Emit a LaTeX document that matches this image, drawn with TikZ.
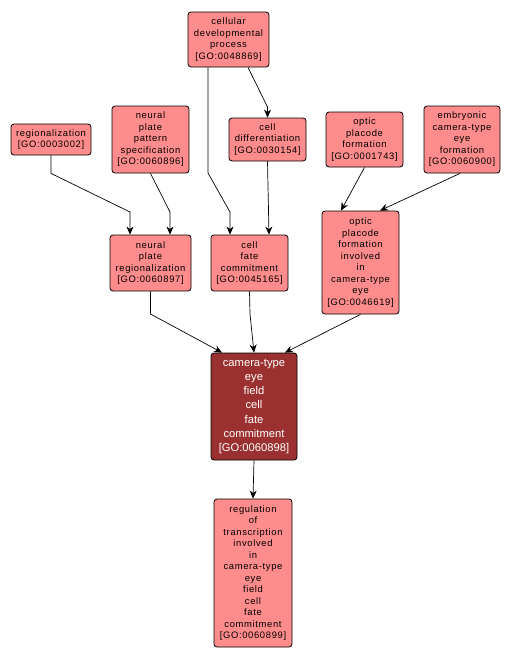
\documentclass[tikz,border=0pt]{standalone}
\usepackage{fontspec}
\setmainfont{Liberation Sans}
\newfontfamily\termfont[LetterSpace=7]{Liberation Sans}
\usetikzlibrary{arrows.meta}
\definecolor{termfill}{HTML}{FF8C8C}
\definecolor{mainfill}{HTML}{9B3030}
\tikzset{
  term/.style={draw, line width=0.8pt, rounded corners=3pt, fill=termfill,
    align=center, inner sep=1pt, font=\termfont\fontsize{9.4}{11.5}\selectfont},
  mainterm/.style={term, fill=mainfill, text=white, font=\rmfamily\fontsize{11.2}{14.1}\selectfont},
  edge/.style={line width=0.7pt, -{Stealth[length=8pt,width=7pt,inset=2.5pt]}}
}
\begin{document}
\begin{tikzpicture}[x=1pt,y=-1pt]
  \useasboundingbox (0,0) rectangle (511,664);
  % top row
  \node[term, minimum width=81pt, minimum height=55pt] (cdp) at (228.5,39.5)
    {cellular\\developmental\\process\\{[}GO:0048869{]}};
  \node[term, minimum width=80pt, minimum height=31pt] (reg) at (51,139.5)
    {regionalization\\{[}GO:0003002{]}};
  \node[term, minimum width=77pt, minimum height=67pt] (nps) at (150.5,139.5)
    {neural\\plate\\pattern\\specification\\{[}GO:0060896{]}};
  \node[term, minimum width=77pt, minimum height=43pt] (cdiff) at (267.5,139.5)
    {cell\\differentiation\\{[}GO:0030154{]}};
  \node[term, minimum width=77pt, minimum height=55pt] (opf) at (364.5,139.5)
    {optic\\placode\\formation\\{[}GO:0001743{]}};
  \node[term, minimum width=76pt, minimum height=67pt] (ecef) at (462,139.5)
    {embryonic\\camera-type\\eye\\formation\\{[}GO:0060900{]}};
  % middle row
  \node[term, minimum width=81pt, minimum height=56pt] (npr) at (150.5,263)
    {neural\\plate\\regionalization\\{[}GO:0060897{]}};
  \node[term, minimum width=77pt, minimum height=56pt] (cfc) at (249.5,263)
    {cell\\fate\\commitment\\{[}GO:0045165{]}};
  \node[term, minimum width=77pt, minimum height=103pt] (opfi) at (360.5,262.5)
    {optic\\placode\\formation\\involved\\in\\camera-type\\eye\\{[}GO:0046619{]}};
  % main term
  \node[mainterm, minimum width=86pt, minimum height=107pt] (cefc) at (254,406.5)
    {camera-type\\eye\\field\\cell\\fate\\commitment\\{[}GO:0060898{]}};
  \node[term, minimum width=78pt, minimum height=148pt] (rtc) at (253,573)
    {regulation\\of\\transcription\\involved\\in\\camera-type\\eye\\field\\cell\\fate\\commitment\\{[}GO:0060899{]}};
  % edges
  \draw[edge] (reg.south) -- ++(0,18) -- (130,212) -- ([xshift=-20.5pt]npr.north);
  \draw[edge] (nps.south) -- (170,212) -- ([xshift=19.5pt]npr.north);
  \draw[edge] ([xshift=-20.5pt]cdp.south) -- (208,173) -- (230,212) -- ([xshift=-19.5pt]cfc.north);
  \draw[edge] ([xshift=19.5pt]cdp.south) -- (267.5,107) -- (cdiff.north);
  \draw[edge] (cdiff.south) -- ([xshift=19.5pt]cfc.north);
  \draw[edge] (opf.south) -- ([xshift=-19.5pt]opfi.north);
  \draw[edge] ([xshift=-2pt]ecef.south) -- ([xshift=19.5pt]opfi.north);
  \draw[edge] (npr.south) -- (150.5,314) -- ([xshift=-32pt]cefc.north);
  \draw[edge] (cfc.south) -- (250,314) -- (cefc.north);
  \draw[edge] (opfi.south) -- ([xshift=31pt]cefc.north);
  \draw[edge] (cefc.south) -- (rtc.north);
\end{tikzpicture}
\end{document}
